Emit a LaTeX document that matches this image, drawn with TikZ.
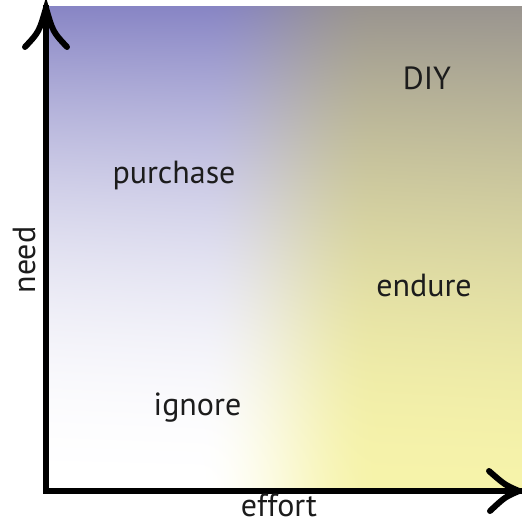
\documentclass[tikz,border=0pt]{standalone}
\usepackage{fontspec}
\setmainfont{PT Sans}
\pgfdeclarefunctionalshading{quadshade}{\pgfpoint{0bp}{0bp}}{\pgfpoint{100bp}{100bp}}{}{
  25 sub 50 div
  exch 25 sub 50 div
  dup 0.3 mul 2 exch sub
  3 -1 roll abs exch exp
  exch
  0.32 sub 0.38 div dup 0 lt {pop 0} if dup 1 gt {pop 1} if
  dup dup mul exch -2 mul 3 add mul
  1 index 1 index dup -0.035 mul 1 add exch 0.07 mul 0.53 add 1 index sub 3 -1 roll mul add 3 1 roll
  1 index 1 index dup -0.047 mul 1 add exch 0.06 mul 0.52 add 1 index sub 3 -1 roll mul add 3 1 roll
  1 index 1 index dup -0.333 mul 1 add exch -0.21 mul 0.77 add 1 index sub 3 -1 roll mul add 3 1 roll
  pop pop
}
\definecolor{txt}{HTML}{1C1C1C}
\tikzset{
  axisline/.style={line width=6pt, line join=miter, line cap=rect, black},
  barb/.style={line width=6pt, line cap=round, black},
  lbl/.style={anchor=base, inner sep=0pt, text=txt, font=\fontsize{32}{38}\selectfont}
}
\begin{document}
\begin{tikzpicture}[x=1pt,y=-1pt]
\useasboundingbox (0,0) rectangle (522,525);
\shade[shading=quadshade] (46,6) rectangle (522,491);
\coordinate (O) at (46,491);
\coordinate (Ytip) at (46,8);
\coordinate (Xtip) at (519,491);
\coordinate (Yl) at (25,47);
\coordinate (Yr) at (67,47);
\coordinate (Xu) at (489,471);
\coordinate (Xd) at (490,511);
\draw[axisline] (Ytip) -- (O) -- (Xtip);
\draw[barb] (Yl) .. controls (39,32) .. (Ytip) .. controls (53,32) .. (Yr);
\draw[barb] (Xu) .. controls (505,485) .. (Xtip) .. controls (505,497) .. (Xd);
\node[lbl] (diy) at (427,89) {DIY};
\node[lbl] (purchase) at (174,183) {purchase};
\node[lbl] (endure) at (424,296) {endure};
\node[lbl] (ignore) at (197.5,415) {ignore};
\node[lbl] (effort) at (279,516) {effort};
\node[lbl, rotate=90] (need) at (35,260) {need};
\end{tikzpicture}
\end{document}
